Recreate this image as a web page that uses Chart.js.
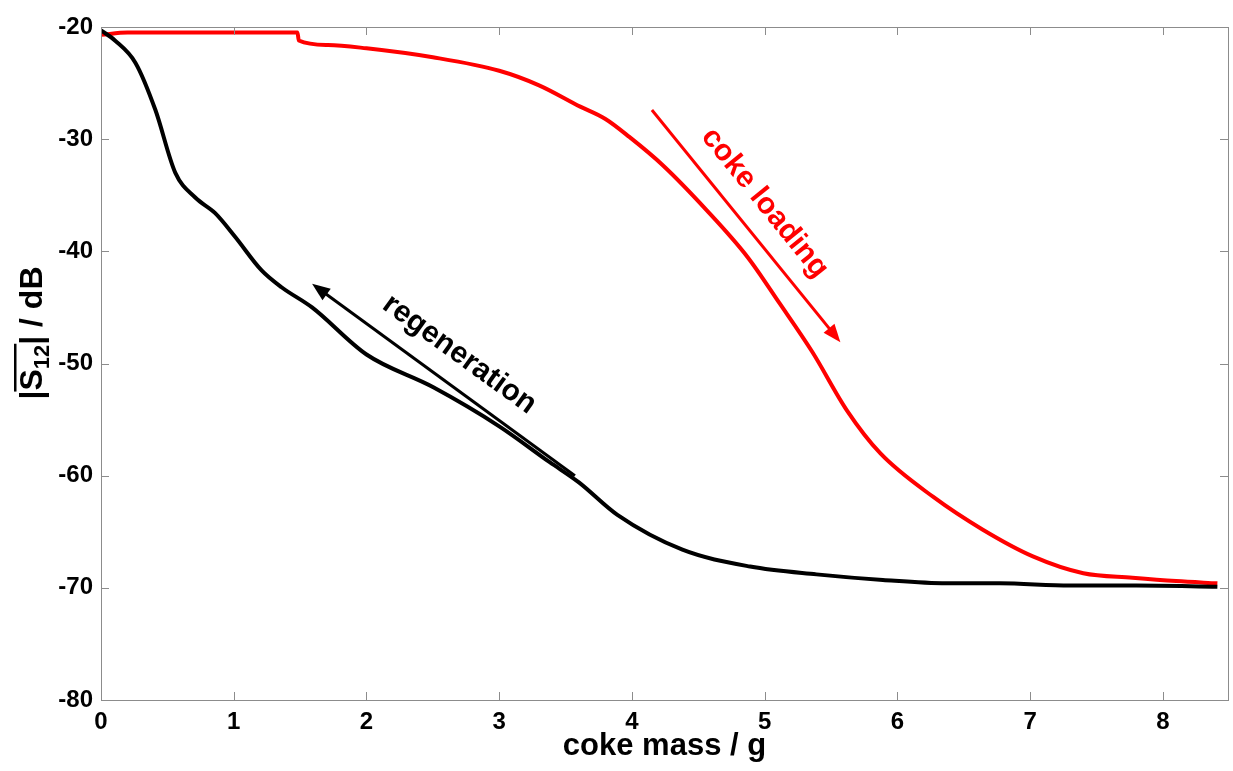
<!DOCTYPE html>
<html>
<head>
<meta charset="utf-8">
<script src="https://cdn.jsdelivr.net/npm/chart.js@4/dist/chart.umd.min.js"></script>
<style>
  body { margin: 0; background: #fff; }
  #wrap { width: 1233px; height: 771px; }
</style>
</head>
<body>
<div id="wrap"><canvas id="s12" width="1233" height="771"></canvas></div>
<script>
// values
const loadMass = [0, 0.2, 0.5, 1.0, 1.48, 1.49, 1.71, 2.0, 2.5, 3.0, 3.3, 3.61, 3.8, 3.98, 4.23, 4.56, 4.87, 5.11, 5.36, 5.62, 5.87, 6.27, 6.64, 7.02, 7.4, 7.77, 8.1, 8.41];
const loadS12 = [-20.7, -20.5, -20.5, -20.5, -20.5, -21.2, -21.6, -21.9, -22.7, -23.9, -25.2, -27.1, -28.2, -29.8, -32.3, -36.3, -40.5, -44.6, -49.0, -54.2, -58.0, -61.9, -64.8, -67.2, -68.7, -69.1, -69.4, -69.6];

const regenMass = [0, 0.105, 0.26, 0.41, 0.56, 0.71, 0.86, 1.01, 1.21, 1.36, 1.59, 2.0, 2.5, 3.0, 3.38, 3.6, 3.89, 4.38, 4.89, 5.39, 5.89, 6.37, 6.77, 7.3, 7.8, 8.41];
const regenS12 = [-20.3, -21.2, -23.2, -27.4, -33.0, -35.2, -36.6, -38.7, -41.7, -43.2, -45.0, -49.2, -52.1, -55.6, -58.8, -60.6, -63.5, -66.6, -68.1, -68.8, -69.3, -69.6, -69.6, -69.8, -69.8, -69.9];

const xTicks = [0, 1, 2, 3, 4, 5, 6, 7, 8];
const yTicks = [-80, -70, -60, -50, -40, -30, -20];

const FONT = "'Liberation Sans', Arial, sans-serif";

function pts(xs, ys) { return xs.map((x, i) => ({x: x, y: ys[i]})); }

//annotations, box and inner ticks
const decor = {
  id: 'decor',
  afterDatasetsDraw(chart) {
    const {ctx, chartArea: a, scales: {x, y}} = chart;
    ctx.save();
    ctx.strokeStyle = '#8c8c8c';
    ctx.lineWidth = 1;
    ctx.strokeRect(a.left + 0.5, a.top + 0.5, a.right - a.left, a.bottom - a.top);
    ctx.beginPath();
    xTicks.forEach(v => {
      const px = Math.round(x.getPixelForValue(v)) + 0.5;
      ctx.moveTo(px, a.bottom); ctx.lineTo(px, a.bottom - 8);
      ctx.moveTo(px, a.top); ctx.lineTo(px, a.top + 8);
    });
    yTicks.forEach(v => {
      const py = Math.round(y.getPixelForValue(v)) + 0.5;
      ctx.moveTo(a.left, py); ctx.lineTo(a.left + 8, py);
      ctx.moveTo(a.right, py); ctx.lineTo(a.right - 8, py);
    });
    ctx.stroke();

    arrow(ctx, x, y, 3.57, -60.0, 1.59, -42.9, '#000');
    label(ctx, x, y, 2.7, -49.2, 'regeneration', '#000', 36);
    arrow(ctx, x, y, 4.15, -27.4, 5.57, -48.1, '#ff0000');
    label(ctx, x, y, 5.0, -35.7, 'coke loading', '#ff0000', 51);

    // y axis title with overline and subscript
    ctx.translate(31, 333);
    ctx.rotate(-Math.PI / 2);
    ctx.fillStyle = '#000';
    ctx.textBaseline = 'alphabetic';
    const big = 'bold 32px ' + FONT, small = 'bold 22px ' + FONT;
    ctx.font = big;
    const w1 = ctx.measureText('|').width, w2 = ctx.measureText('S').width, w4 = ctx.measureText('| / dB').width;
    ctx.font = small;
    const w3 = ctx.measureText('12').width;
    let cx = -(w1 + w2 + w3 + w4) / 2;
    ctx.font = big; ctx.fillText('|', cx, 11); cx += w1;
    const olStart = cx;
    ctx.fillText('S', cx, 11); cx += w2;
    ctx.font = small; ctx.fillText('12', cx, 18); cx += w3;
    ctx.fillRect(olStart - 1, -17, cx - olStart + 2, 2.5);
    ctx.font = big; ctx.fillText('| / dB', cx, 11);
    ctx.restore();
  }
};

function arrow(ctx, x, y, x0, y0, x1, y1, col) {
  const ax = x.getPixelForValue(x0), ay = y.getPixelForValue(y0);
  const bx = x.getPixelForValue(x1), by = y.getPixelForValue(y1);
  const ang = Math.atan2(by - ay, bx - ax);
  ctx.save();
  ctx.strokeStyle = col; ctx.fillStyle = col; ctx.lineWidth = 3;
  ctx.beginPath();
  ctx.moveTo(ax, ay);
  ctx.lineTo(bx - 10 * Math.cos(ang), by - 10 * Math.sin(ang));
  ctx.stroke();
  ctx.translate(bx, by); ctx.rotate(ang);
  ctx.beginPath();
  ctx.moveTo(0, 0); ctx.lineTo(-18, -7); ctx.lineTo(-18, 7); ctx.closePath();
  ctx.fill();
  ctx.restore();
}

function label(ctx, x, y, xv, yv, txt, col, ang) {
  const px = x.getPixelForValue(xv), py = y.getPixelForValue(yv);
  ctx.save();
  ctx.translate(px, py);
  ctx.rotate(ang * Math.PI / 180);
  ctx.font = 'bold 30px ' + FONT;
  ctx.fillStyle = col;
  ctx.textAlign = 'center';
  ctx.textBaseline = 'middle';
  ctx.fillText(txt, 0, 0);
  ctx.restore();
}

const config = {
  type: 'line',
  data: {
    datasets: [
      {label: 'coke loading', data: pts(loadMass, loadS12), borderColor: '#ff0000', borderWidth: 4, pointRadius: 0, cubicInterpolationMode: 'monotone', order: 1},
      {label: 'regeneration', data: pts(regenMass, regenS12), borderColor: '#000000', borderWidth: 4, pointRadius: 0, cubicInterpolationMode: 'monotone', order: 0}
    ]
  },
  options: {
    responsive: false,
    animation: false,
    layout: {padding: {top: 27, right: 5, left: 0, bottom: 0}},
    plugins: {legend: {display: false}, tooltip: {enabled: false}},
    scales: {
      x: {
        type: 'linear', min: 0, max: 8.49,
        afterBuildTicks: s => { s.ticks = xTicks.map(v => ({value: v})); },
        afterFit: s => { s.height = 71; },
        grid: {display: false, drawTicks: false},
        border: {display: false},
        ticks: {color: '#000', font: {family: FONT, size: 24, weight: 'bold'}, padding: 8, maxRotation: 0},
        title: {display: true, text: 'coke mass / g', color: '#000', font: {family: FONT, size: 31, weight: 'bold'}, padding: {top: 0, bottom: 6}}
      },
      y: {
        min: -80, max: -20,
        afterBuildTicks: s => { s.ticks = yTicks.map(v => ({value: v})); },
        afterFit: s => { s.width = 101; },
        grid: {display: false, drawTicks: false},
        border: {display: false},
        ticks: {color: '#000', font: {family: FONT, size: 24, weight: 'bold'}, padding: 8}
      }
    }
  },
  plugins: [decor]
};

const s12chart = new Chart(document.getElementById('s12'), config);
</script>
</body>
</html>
